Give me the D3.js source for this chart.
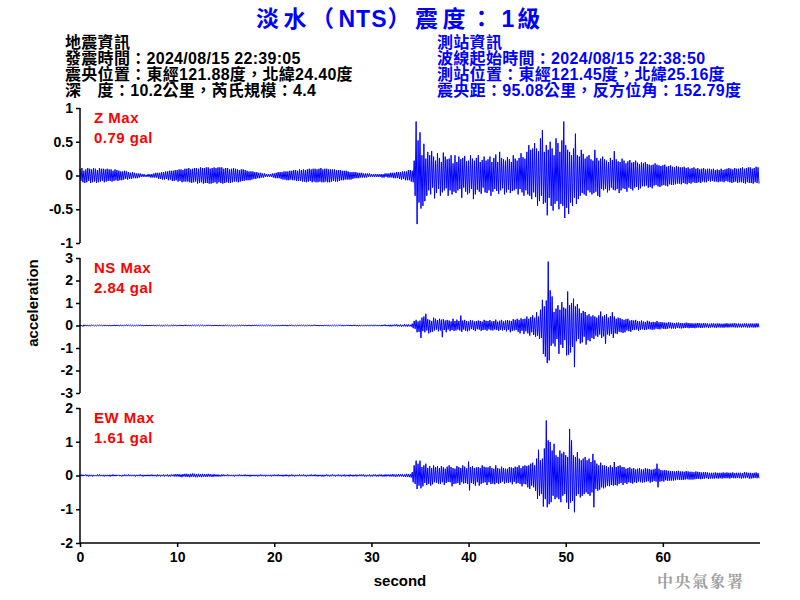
<!DOCTYPE html>
<html><head><meta charset="utf-8">
<script src="https://cdn.jsdelivr.net/npm/d3@7"></script>
<style>body{margin:0;background:#fff}</style>
</head><body><svg id="c" width="800" height="600"></svg>
<script>
const titleParts = [["淡水（",4.5,0],["NTS",1,0],["）震度：",4.5,0],["1",1,4],["級",4,2]]; // [text, letter-spacing, dx]
const quakeInfo = ["地震資訊","發震時間：2024/08/15 22:39:05","震央位置：東經121.88度，北緯24.40度","深　度：10.2公里，芮氏規模：4.4"];
const stationInfo = ["測站資訊","波線起始時間：2024/08/15 22:38:50","測站位置：東經121.45度，北緯25.16度","震央距：95.08公里，反方位角：152.79度"];
const componentNames = ["Z Max","NS Max","EW Max"];
const maxLabels = ["0.79 gal","2.84 gal","1.61 gal"];
const sampleInterval = 0.1; // seconds between samples
const xTicks = [0,10,20,30,40,50,60];
const zTicks = [-1,-0.5,0,0.5,1];
const nsTicks = [-3,-2,-1,0,1,2,3];
const ewTicks = [-2,-1,0,1,2];
const zDomain = [-1,1], nsDomain = [-3,3], ewDomain = [-2,2];

// one row = one second (10 samples)
const zValues = [
0.10,-0.08,0.11,-0.10,0.07,-0.11,0.09,-0.10,0.11,-0.08,
0.10,-0.11,0.09,-0.10,0.11,-0.09,0.10,-0.11,0.08,-0.10,
0.11,-0.09,0.10,-0.08,0.10,-0.10,0.09,-0.09,0.10,-0.08,
0.09,-0.08,0.09,-0.09,0.07,-0.08,0.09,-0.07,0.08,-0.08,
0.07,-0.07,0.06,-0.07,0.06,-0.06,0.07,-0.05,0.06,-0.06,
0.05,-0.05,0.04,-0.05,0.05,-0.04,0.04,-0.04,0.03,-0.04,
0.03,-0.03,0.03,-0.02,0.02,-0.02,0.02,-0.02,0.01,-0.02,
0.02,-0.02,0.02,-0.03,0.02,-0.03,0.03,-0.03,0.04,-0.03,
0.04,-0.05,0.04,-0.05,0.05,-0.06,0.05,-0.06,0.06,-0.05,
0.06,-0.07,0.07,-0.06,0.07,-0.08,0.07,-0.08,0.08,-0.07,
0.08,-0.09,0.09,-0.08,0.09,-0.10,0.08,-0.09,0.10,-0.09,
0.10,-0.09,0.11,-0.10,0.09,-0.11,0.10,-0.10,0.11,-0.09,
0.11,-0.12,0.10,-0.11,0.12,-0.10,0.11,-0.12,0.11,-0.11,
0.12,-0.11,0.12,-0.12,0.10,-0.12,0.11,-0.11,0.12,-0.10,
0.11,-0.12,0.12,-0.10,0.12,-0.11,0.12,-0.12,0.10,-0.11,
0.11,-0.10,0.11,-0.11,0.09,-0.11,0.10,-0.10,0.11,-0.09,
0.10,-0.09,0.09,-0.10,0.08,-0.09,0.09,-0.08,0.09,-0.08,
0.08,-0.07,0.07,-0.07,0.06,-0.07,0.06,-0.06,0.06,-0.05,
0.05,-0.05,0.05,-0.04,0.04,-0.04,0.04,-0.03,0.03,-0.03,
0.03,-0.02,0.02,-0.02,0.02,-0.02,0.02,-0.02,0.03,-0.03,
0.03,-0.04,0.04,-0.04,0.05,-0.04,0.05,-0.05,0.05,-0.06,
0.06,-0.06,0.06,-0.07,0.06,-0.07,0.07,-0.06,0.07,-0.07,
0.08,-0.07,0.08,-0.08,0.07,-0.08,0.09,-0.08,0.08,-0.09,
0.09,-0.09,0.08,-0.10,0.09,-0.09,0.10,-0.08,0.09,-0.10,
0.10,-0.09,0.10,-0.10,0.09,-0.10,0.10,-0.09,0.11,-0.10,
0.09,-0.10,0.10,-0.09,0.10,-0.10,0.09,-0.10,0.09,-0.09,
0.09,-0.08,0.09,-0.09,0.08,-0.09,0.08,-0.08,0.08,-0.07,
0.07,-0.07,0.07,-0.06,0.07,-0.06,0.06,-0.06,0.05,-0.06,
0.05,-0.05,0.05,-0.04,0.05,-0.04,0.04,-0.04,0.04,-0.03,
0.04,-0.03,0.03,-0.03,0.03,-0.03,0.03,-0.02,0.03,-0.02,
0.02,-0.02,0.02,-0.02,0.02,-0.02,0.02,-0.02,0.02,-0.02,
0.02,-0.03,0.02,-0.03,0.03,-0.02,0.03,-0.03,0.03,-0.03,
0.04,-0.03,0.04,-0.04,0.04,-0.04,0.05,-0.04,0.05,-0.05,
0.05,-0.06,0.06,-0.05,0.06,-0.07,0.06,-0.07,0.08,-0.07,
0.08,-0.09,0.07,-0.10,0.22,-0.30,0.80,-0.72,0.52,-0.40,
0.64,-0.49,0.30,-0.45,0.47,-0.38,0.25,-0.30,0.35,-0.22,
0.30,-0.28,0.36,-0.18,0.28,-0.34,0.22,-0.26,0.33,-0.20,
0.26,-0.30,0.20,-0.25,0.34,-0.22,0.28,-0.19,0.24,-0.30,
0.25,-0.22,0.30,-0.28,0.18,-0.24,0.30,-0.26,0.20,-0.22,
0.28,-0.20,0.24,-0.33,0.26,-0.18,0.29,-0.24,0.21,-0.28,
0.22,-0.26,0.30,-0.20,0.25,-0.35,0.22,-0.28,0.26,-0.21,
0.30,-0.24,0.20,-0.27,0.23,-0.18,0.28,-0.25,0.22,-0.26,
0.24,-0.22,0.28,-0.30,0.20,-0.24,0.26,-0.20,0.31,-0.23,
0.20,-0.27,0.35,-0.22,0.26,-0.19,0.24,-0.28,0.22,-0.25,
0.27,-0.21,0.24,-0.26,0.20,-0.23,0.30,-0.22,0.25,-0.20,
0.22,-0.28,0.26,-0.20,0.33,-0.25,0.27,-0.30,0.25,-0.22,
0.35,-0.28,0.45,-0.30,0.38,-0.35,0.40,-0.25,0.48,-0.32,
0.40,-0.45,0.36,-0.38,0.55,-0.30,0.67,-0.42,0.35,-0.40,
0.45,-0.59,0.38,-0.33,0.50,-0.45,0.40,-0.52,0.30,-0.42,
0.55,-0.38,0.48,-0.50,0.35,-0.42,0.52,-0.45,0.80,-0.63,
0.45,-0.48,0.38,-0.57,0.35,-0.40,0.30,-0.45,0.40,-0.33,
0.62,-0.42,0.30,-0.35,0.28,-0.30,0.38,-0.26,0.32,-0.28,
0.25,-0.30,0.28,-0.22,0.30,-0.25,0.24,-0.28,0.22,-0.26,
0.38,-0.24,0.26,-0.30,0.22,-0.32,0.25,-0.20,0.28,-0.22,
0.24,-0.20,0.22,-0.25,0.20,-0.22,0.26,-0.18,0.23,-0.21,
0.36,-0.22,0.24,-0.20,0.21,-0.26,0.20,-0.22,0.25,-0.19,
0.22,-0.20,0.18,-0.24,0.21,-0.18,0.23,-0.20,0.19,-0.22,
0.20,-0.18,0.22,-0.17,0.19,-0.21,0.17,-0.19,0.20,-0.16,
0.18,-0.16,0.20,-0.15,0.17,-0.18,0.16,-0.17,0.15,-0.19,
0.16,-0.15,0.18,-0.14,0.16,-0.16,0.15,-0.17,0.14,-0.15,
0.15,-0.14,0.16,-0.15,0.13,-0.16,0.14,-0.13,0.15,-0.14,
0.13,-0.14,0.12,-0.13,0.14,-0.12,0.13,-0.12,0.12,-0.13,
0.12,-0.11,0.13,-0.12,0.11,-0.13,0.12,-0.11,0.10,-0.12,
0.11,-0.10,0.12,-0.11,0.10,-0.11,0.11,-0.10,0.09,-0.11,
0.10,-0.09,0.11,-0.10,0.09,-0.10,0.10,-0.08,0.10,-0.09,
0.09,-0.08,0.10,-0.09,0.08,-0.09,0.09,-0.10,0.08,-0.09,
0.10,-0.09,0.08,-0.10,0.09,-0.08,0.10,-0.09,0.11,-0.10,
0.10,-0.11,0.09,-0.10,0.11,-0.09,0.10,-0.11,0.10,-0.10,
0.11,-0.10,0.12,-0.11,0.10,-0.12,0.11,-0.10,0.12,-0.11,
0.12,-0.11,0.10,-0.12,0.11,-0.10,0.13,-0.11,0.12,-0.12
];

const nsValues = [
0.02,-0.02,0.01,-0.05,0.03,-0.02,0.02,-0.01,0.02,-0.03,
0.01,-0.02,0.02,-0.01,0.02,-0.02,0.01,-0.02,0.02,-0.01,
0.02,-0.01,0.02,-0.02,0.01,-0.02,0.03,-0.02,0.01,-0.02,
0.02,-0.02,0.01,-0.02,0.02,-0.01,0.02,-0.02,0.02,-0.01,
0.01,-0.02,0.02,-0.02,0.01,-0.02,0.02,-0.01,0.03,-0.02,
0.02,-0.01,0.02,-0.02,0.02,-0.02,0.01,-0.02,0.02,-0.02,
0.02,-0.02,0.03,-0.01,0.02,-0.02,0.01,-0.02,0.02,-0.01,
0.01,-0.02,0.02,-0.02,0.02,-0.01,0.02,-0.02,0.01,-0.02,
0.02,-0.01,0.02,-0.02,0.01,-0.03,0.02,-0.02,0.02,-0.01,
0.02,-0.02,0.01,-0.02,0.02,-0.02,0.02,-0.01,0.02,-0.02,
0.01,-0.02,0.02,-0.01,0.02,-0.02,0.01,-0.02,0.03,-0.02,
0.02,-0.02,0.02,-0.02,0.01,-0.02,0.02,-0.01,0.02,-0.02,
0.02,-0.01,0.02,-0.02,0.02,-0.01,0.02,-0.02,0.01,-0.02,
0.01,-0.02,0.03,-0.02,0.02,-0.02,0.01,-0.02,0.02,-0.01,
0.02,-0.02,0.01,-0.02,0.02,-0.01,0.02,-0.03,0.02,-0.02,
0.02,-0.01,0.02,-0.02,0.01,-0.02,0.02,-0.02,0.01,-0.02,
0.01,-0.02,0.02,-0.01,0.02,-0.02,0.02,-0.01,0.02,-0.02,
0.02,-0.02,0.01,-0.02,0.03,-0.02,0.01,-0.02,0.02,-0.01,
0.02,-0.01,0.02,-0.02,0.01,-0.02,0.02,-0.02,0.02,-0.02,
0.01,-0.02,0.02,-0.02,0.02,-0.01,0.02,-0.02,0.01,-0.03,
0.02,-0.02,0.01,-0.02,0.02,-0.02,0.01,-0.02,0.02,-0.01,
0.02,-0.01,0.02,-0.03,0.02,-0.02,0.02,-0.01,0.02,-0.02,
0.01,-0.02,0.02,-0.02,0.01,-0.02,0.03,-0.02,0.02,-0.01,
0.02,-0.02,0.01,-0.02,0.02,-0.01,0.02,-0.02,0.01,-0.02,
0.02,-0.01,0.03,-0.02,0.02,-0.02,0.01,-0.02,0.02,-0.02,
0.01,-0.02,0.02,-0.01,0.02,-0.03,0.02,-0.02,0.01,-0.02,
0.02,-0.02,0.02,-0.02,0.01,-0.02,0.02,-0.01,0.03,-0.02,
0.02,-0.03,0.02,-0.02,0.02,-0.01,0.02,-0.02,0.02,-0.02,
0.01,-0.02,0.03,-0.02,0.02,-0.02,0.01,-0.03,0.02,-0.02,
0.02,-0.02,0.02,-0.03,0.02,-0.02,0.03,-0.02,0.02,-0.03,
0.03,-0.02,0.02,-0.03,0.03,-0.02,0.02,-0.03,0.02,-0.02,
0.02,-0.03,0.03,-0.02,0.04,-0.03,0.02,-0.03,0.03,-0.04,
0.03,-0.04,0.03,-0.03,0.04,-0.03,0.05,-0.04,0.03,-0.04,
0.04,-0.05,0.03,-0.04,0.05,-0.04,0.04,-0.05,0.05,-0.04,
0.03,-0.05,0.08,-0.12,0.20,-0.15,0.25,-0.30,0.18,-0.28,
0.22,-0.55,0.35,-0.25,0.40,-0.30,0.52,-0.22,0.28,-0.35,
0.25,-0.30,0.20,-0.28,0.35,-0.22,0.30,-0.18,0.24,-0.26,
0.30,-0.22,0.26,-0.52,0.28,-0.20,0.22,-0.30,0.25,-0.18,
0.22,-0.25,0.18,-0.20,0.30,-0.24,0.20,-0.22,0.26,-0.18,
0.20,-0.22,0.44,-0.28,0.22,-0.18,0.25,-0.24,0.20,-0.26,
0.18,-0.22,0.24,-0.16,0.22,-0.20,0.18,-0.25,0.20,-0.17,
0.22,-0.18,0.20,-0.24,0.17,-0.20,0.25,-0.19,0.21,-0.23,
0.20,-0.17,0.24,-0.21,0.18,-0.22,0.20,-0.18,0.26,-0.20,
0.17,-0.24,0.21,-0.19,0.25,-0.22,0.18,-0.20,0.22,-0.26,
0.24,-0.19,0.22,-0.30,0.20,-0.24,0.28,-0.22,0.25,-0.20,
0.30,-0.28,0.25,-0.35,0.32,-0.24,0.28,-0.38,0.30,-0.26,
0.40,-0.35,0.30,-0.45,0.38,-0.30,0.45,-0.42,0.35,-0.50,
0.59,-0.45,0.40,-0.60,0.70,-0.55,1.14,-1.26,0.85,-1.38,
1.11,-1.67,2.84,-1.55,1.56,-0.90,1.29,-0.80,0.60,-0.93,
0.75,-0.60,0.90,-1.26,0.70,-0.85,1.04,-1.00,0.80,-0.65,
0.75,-1.33,1.51,-1.30,0.90,-1.20,1.00,-0.95,1.19,-1.85,
0.85,-0.70,0.95,-0.60,0.75,-0.80,0.55,-0.75,0.65,-0.50,
0.60,-0.85,0.45,-0.65,0.50,-0.70,0.40,-0.55,0.45,-0.60,
0.40,-0.45,0.35,-0.50,0.45,-0.40,0.62,-0.55,0.40,-0.48,
0.45,-0.81,0.50,-0.40,0.35,-0.45,0.42,-0.38,0.59,-0.55,
0.40,-0.35,0.30,-0.38,0.35,-0.28,0.32,-0.30,0.28,-0.33,
0.25,-0.30,0.28,-0.22,0.30,-0.25,0.22,-0.28,0.24,-0.20,
0.22,-0.20,0.25,-0.18,0.20,-0.24,0.18,-0.20,0.22,-0.17,
0.18,-0.20,0.16,-0.19,0.21,-0.16,0.18,-0.17,0.15,-0.19,
0.16,-0.18,0.15,-0.14,0.20,-0.16,0.14,-0.17,0.15,-0.13,
0.14,-0.15,0.13,-0.16,0.12,-0.14,0.15,-0.12,0.13,-0.14,
0.12,-0.13,0.11,-0.14,0.12,-0.11,0.13,-0.12,0.11,-0.13,
0.11,-0.12,0.10,-0.11,0.13,-0.10,0.11,-0.12,0.10,-0.11,
0.10,-0.11,0.09,-0.12,0.10,-0.10,0.11,-0.09,0.10,-0.11,
0.09,-0.10,0.11,-0.09,0.10,-0.08,0.09,-0.10,0.08,-0.09,
0.09,-0.08,0.10,-0.09,0.08,-0.10,0.09,-0.08,0.09,-0.09,
0.08,-0.09,0.08,-0.10,0.09,-0.08,0.10,-0.09,0.08,-0.08,
0.09,-0.08,0.09,-0.08,0.10,-0.09,0.08,-0.09,0.09,-0.08,
0.08,-0.09,0.08,-0.08,0.09,-0.08,0.09,-0.09,0.08,-0.09,
0.09,-0.08,0.09,-0.09,0.08,-0.09,0.10,-0.08,0.09,-0.08
];

const ewValues = [
0.02,-0.02,0.03,-0.02,0.02,-0.01,0.03,-0.02,0.02,-0.03,
0.02,-0.02,0.02,-0.03,0.02,-0.02,0.01,-0.02,0.03,-0.02,
0.03,-0.02,0.02,-0.02,0.02,-0.03,0.02,-0.02,0.02,-0.02,
0.02,-0.03,0.02,-0.02,0.03,-0.02,0.02,-0.02,0.02,-0.01,
0.02,-0.02,0.01,-0.03,0.02,-0.02,0.03,-0.02,0.02,-0.02,
0.03,-0.02,0.02,-0.02,0.02,-0.02,0.02,-0.03,0.02,-0.02,
0.02,-0.02,0.03,-0.02,0.02,-0.03,0.02,-0.02,0.02,-0.02,
0.02,-0.02,0.02,-0.02,0.03,-0.02,0.02,-0.02,0.02,-0.03,
0.03,-0.02,0.02,-0.03,0.02,-0.02,0.03,-0.03,0.02,-0.02,
0.03,-0.03,0.02,-0.03,0.03,-0.02,0.03,-0.03,0.04,-0.03,
0.04,-0.03,0.04,-0.04,0.03,-0.05,0.04,-0.03,0.05,-0.04,
0.05,-0.04,0.04,-0.05,0.05,-0.04,0.06,-0.04,0.05,-0.05,
0.04,-0.05,0.05,-0.04,0.04,-0.05,0.05,-0.04,0.04,-0.04,
0.04,-0.04,0.05,-0.03,0.04,-0.04,0.03,-0.04,0.04,-0.03,
0.03,-0.03,0.03,-0.03,0.02,-0.03,0.03,-0.02,0.03,-0.02,
0.02,-0.02,0.03,-0.02,0.02,-0.02,0.02,-0.02,0.02,-0.03,
0.02,-0.02,0.02,-0.02,0.03,-0.02,0.02,-0.02,0.02,-0.02,
0.03,-0.02,0.02,-0.02,0.02,-0.03,0.02,-0.02,0.02,-0.02,
0.02,-0.02,0.02,-0.03,0.02,-0.02,0.03,-0.02,0.02,-0.02,
0.02,-0.03,0.02,-0.02,0.02,-0.02,0.02,-0.03,0.02,-0.02,
0.03,-0.02,0.02,-0.02,0.03,-0.02,0.02,-0.02,0.02,-0.03,
0.02,-0.02,0.03,-0.02,0.02,-0.03,0.02,-0.02,0.03,-0.02,
0.02,-0.03,0.02,-0.02,0.02,-0.02,0.03,-0.02,0.02,-0.02,
0.03,-0.02,0.02,-0.03,0.02,-0.02,0.02,-0.02,0.03,-0.02,
0.02,-0.02,0.03,-0.02,0.02,-0.03,0.02,-0.02,0.02,-0.03,
0.02,-0.03,0.02,-0.02,0.03,-0.02,0.02,-0.03,0.02,-0.02,
0.03,-0.02,0.02,-0.03,0.02,-0.02,0.03,-0.02,0.02,-0.03,
0.02,-0.02,0.03,-0.03,0.02,-0.02,0.02,-0.03,0.03,-0.02,
0.02,-0.03,0.02,-0.02,0.03,-0.03,0.02,-0.02,0.03,-0.02,
0.03,-0.02,0.03,-0.03,0.02,-0.03,0.02,-0.02,0.03,-0.03,
0.02,-0.03,0.03,-0.02,0.03,-0.03,0.02,-0.03,0.03,-0.02,
0.03,-0.03,0.02,-0.03,0.03,-0.03,0.03,-0.02,0.03,-0.03,
0.03,-0.03,0.04,-0.03,0.03,-0.04,0.03,-0.03,0.04,-0.03,
0.04,-0.03,0.04,-0.04,0.03,-0.04,0.05,-0.04,0.04,-0.05,
0.04,-0.06,0.10,-0.20,0.30,-0.25,0.44,-0.40,0.35,-0.30,
0.44,-0.38,0.25,-0.32,0.30,-0.22,0.35,-0.28,0.22,-0.25,
0.28,-0.30,0.22,-0.26,0.30,-0.20,0.25,-0.22,0.28,-0.24,
0.22,-0.25,0.28,-0.20,0.24,-0.28,0.20,-0.22,0.26,-0.19,
0.30,-0.20,0.25,-0.32,0.22,-0.25,0.20,-0.24,0.28,-0.22,
0.25,-0.28,0.22,-0.20,0.30,-0.24,0.26,-0.22,0.21,-0.25,
0.41,-0.44,0.25,-0.22,0.28,-0.25,0.22,-0.30,0.24,-0.20,
0.25,-0.30,0.22,-0.25,0.30,-0.22,0.26,-0.20,0.24,-0.28,
0.24,-0.20,0.28,-0.25,0.22,-0.24,0.20,-0.26,0.30,-0.22,
0.22,-0.25,0.20,-0.22,0.26,-0.18,0.22,-0.24,0.20,-0.21,
0.20,-0.22,0.25,-0.20,0.24,-0.26,0.22,-0.19,0.26,-0.24,
0.25,-0.22,0.30,-0.25,0.22,-0.32,0.28,-0.25,0.30,-0.26,
0.28,-0.35,0.30,-0.40,0.35,-0.30,0.38,-0.35,0.30,-0.45,
0.50,-0.69,0.76,-0.60,0.45,-0.55,0.50,-0.92,0.80,-0.70,
1.63,-0.94,1.04,-0.85,0.99,-0.79,0.74,-0.60,0.94,-0.70,
0.60,-0.65,0.55,-0.70,0.74,-0.79,0.65,-0.60,0.70,-0.55,
0.60,-0.80,0.55,-0.99,1.38,-0.80,1.04,-0.75,0.60,-1.09,
0.55,-0.60,0.69,-0.55,0.50,-0.65,0.45,-0.60,0.50,-0.55,
0.55,-0.50,0.45,-0.55,0.50,-0.60,0.40,-0.50,0.64,-0.94,
0.45,-0.40,0.35,-0.45,0.30,-0.42,0.38,-0.35,0.30,-0.38,
0.30,-0.35,0.28,-0.30,0.25,-0.32,0.30,-0.28,0.25,-0.30,
0.40,-0.28,0.25,-0.30,0.28,-0.25,0.30,-0.22,0.25,-0.28,
0.25,-0.22,0.20,-0.25,0.22,-0.20,0.24,-0.22,0.20,-0.24,
0.22,-0.20,0.18,-0.22,0.20,-0.18,0.22,-0.20,0.18,-0.21,
0.18,-0.20,0.22,-0.18,0.20,-0.17,0.19,-0.21,0.17,-0.19,
0.18,-0.16,0.20,-0.18,0.35,-0.35,0.20,-0.18,0.16,-0.17,
0.15,-0.18,0.16,-0.14,0.15,-0.16,0.14,-0.15,0.13,-0.15,
0.13,-0.15,0.12,-0.14,0.13,-0.12,0.14,-0.13,0.12,-0.13,
0.12,-0.13,0.11,-0.12,0.13,-0.11,0.12,-0.12,0.11,-0.12,
0.11,-0.12,0.10,-0.11,0.12,-0.10,0.11,-0.10,0.10,-0.11,
0.09,-0.10,0.10,-0.09,0.10,-0.08,0.09,-0.10,0.08,-0.09,
0.08,-0.09,0.08,-0.09,0.09,-0.08,0.08,-0.09,0.08,-0.08,
0.08,-0.09,0.09,-0.08,0.08,-0.08,0.09,-0.08,0.08,-0.09,
0.08,-0.07,0.09,-0.08,0.07,-0.08,0.08,-0.07,0.08,-0.08,
0.08,-0.09,0.07,-0.08,0.10,-0.08,0.09,-0.07,0.08,-0.09,
0.08,-0.09,0.07,-0.08,0.08,-0.07,0.09,-0.08,0.07,-0.08
];

const FONT = "'Liberation Sans', Arial, 'Noto Sans CJK TC', sans-serif";
const CJK = "'Liberation Sans', 'Noto Sans CJK TC', sans-serif";
const svg = d3.select("#c");

const x = d3.scaleLinear().domain([0,70]).range([80,760]);
const panels = [
  {values: zValues, domain: zDomain, ticks: zTicks, top: 108},
  {values: nsValues, domain: nsDomain, ticks: nsTicks, top: 258},
  {values: ewValues, domain: ewDomain, ticks: ewTicks, top: 408}
];
const panelH = 135;

// title
const tt = svg.append("text").attr("x",256).attr("y",27)
  .attr("font-family",CJK).attr("font-weight","bold").attr("font-size",23).attr("fill","#0000ff");
titleParts.forEach(([s,ls,dx])=>{
  tt.append("tspan").attr("letter-spacing",ls).attr("dx",dx).text(s);
});

// header blocks
quakeInfo.forEach((s,i)=>{
  svg.append("text").attr("x",65).attr("y",48+16*i).attr("font-family",CJK)
    .attr("font-weight","bold").attr("font-size",16).attr("letter-spacing",0.3).attr("fill","#000").text(s);
});
stationInfo.forEach((s,i)=>{
  svg.append("text").attr("x",437).attr("y",48+16*i).attr("font-family",CJK)
    .attr("font-weight","bold").attr("font-size",16).attr("letter-spacing",0.3).attr("fill","#0000ff").text(s);
});

const fmt = d => String(d);
panels.forEach((p,k)=>{
  const y = d3.scaleLinear().domain(p.domain).range([p.top+panelH, p.top]);
  const line = d3.line().x((d,i)=>x(i*sampleInterval)).y(d=>y(d));
  svg.append("path").datum(p.values).attr("d",line)
    .attr("fill","none").attr("stroke","#0000ff").attr("stroke-width",1);
  const ax = svg.append("g").attr("transform","translate(80,0)")
    .call(d3.axisLeft(y).tickValues(p.ticks).tickSize(4).tickPadding(3).tickFormat(fmt));
  ax.select(".domain").attr("stroke","#000").attr("stroke-width",1.5).attr("d",`M0,${p.top}V${p.top+panelH}`);
  ax.selectAll(".tick line").attr("stroke","#000").attr("stroke-width",1.5);
  ax.selectAll(".tick text").attr("font-family",FONT).attr("font-weight","bold")
    .attr("font-size",14).attr("fill","#000");
  svg.append("text").attr("x",94).attr("y",p.top+15).attr("font-family",FONT)
    .attr("font-weight","bold").attr("font-size",15).attr("letter-spacing",0.5).attr("fill","#ff0000").text(componentNames[k]);
  svg.append("text").attr("x",94).attr("y",p.top+35).attr("font-family",FONT)
    .attr("font-weight","bold").attr("font-size",15).attr("letter-spacing",0.5).attr("fill","#ff0000").text(maxLabels[k]);
});

const xa = svg.append("g").attr("transform","translate(0,543)")
  .call(d3.axisBottom(x).tickValues(xTicks).tickSize(4).tickPadding(5).tickFormat(fmt));
xa.select(".domain").attr("stroke","#000").attr("stroke-width",1.5).attr("d","M80,0H760");
xa.selectAll(".tick line").attr("stroke","#000").attr("stroke-width",1.5);
xa.selectAll(".tick text").attr("font-family",FONT).attr("font-weight","bold")
  .attr("font-size",14).attr("fill","#000");

svg.append("text").attr("x",400).attr("y",586).attr("text-anchor","middle")
  .attr("font-family",FONT).attr("font-weight","bold").attr("font-size",15).text("second");
svg.append("text").attr("transform","translate(38,303) rotate(-90)").attr("text-anchor","middle")
  .attr("font-family",FONT).attr("font-weight","bold").attr("font-size",15).text("acceleration");
svg.append("text").attr("x",657).attr("y",587).attr("font-family","'Noto Serif CJK TC','Noto Sans CJK TC',serif")
  .attr("font-weight","bold").attr("font-size",16).attr("letter-spacing",1.5).attr("fill","#a0a0a0").text("中央氣象署");
</script></body></html>
